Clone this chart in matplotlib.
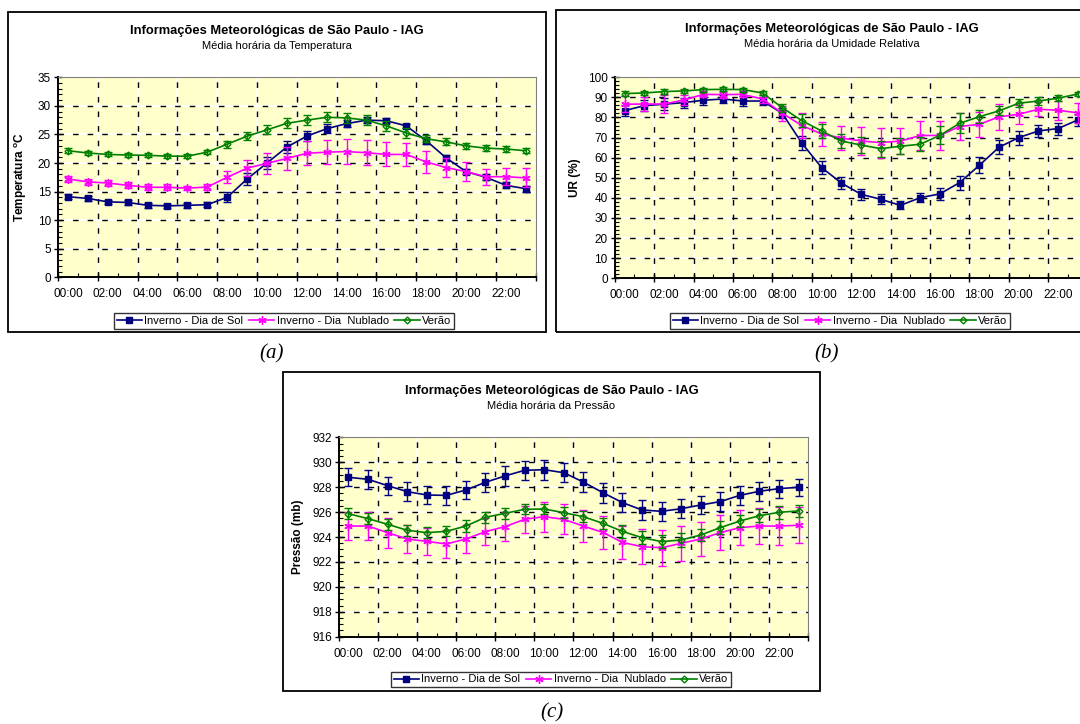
import numpy as np
import matplotlib
matplotlib.use('Agg')
import matplotlib.pyplot as plt
from matplotlib.patches import Rectangle

plt.rcParams['font.family'] = ['Liberation Sans', 'DejaVu Sans']
plt.rcParams['mathtext.fontset'] = 'custom'
plt.rcParams['mathtext.rm'] = 'Liberation Sans'

# --- dados ---
horas = ['00:00', '02:00', '04:00', '06:00', '08:00', '10:00',
         '12:00', '14:00', '16:00', '18:00', '20:00', '22:00']
series_nomes = ['Inverno - Dia de Sol', 'Inverno - Dia  Nublado', 'Verão']

temp_sol = [14.1, 13.8, 13.2, 13.1, 12.6, 12.5, 12.6, 12.7, 14.0, 17.2, 20.0, 22.8,
            24.7, 26.0, 26.9, 27.5, 27.4, 26.5, 23.9, 20.9, 18.5, 17.5, 16.1, 15.5]
temp_sol_err = [0.4, 0.4, 0.4, 0.4, 0.4, 0.4, 0.4, 0.4, 0.9, 1.0, 1.1, 1.0,
                0.9, 0.8, 0.6, 0.5, 0.4, 0.4, 0.6, 0.5, 0.5, 0.5, 0.5, 0.5]
temp_nub = [17.2, 16.7, 16.5, 16.1, 15.75, 15.75, 15.6, 15.8, 17.5, 19.1, 19.95, 20.8,
            21.7, 21.9, 22.0, 21.8, 21.5, 21.5, 20.2, 19.2, 18.5, 17.6, 17.6, 17.4]
temp_nub_err = [0.6, 0.5, 0.5, 0.5, 0.5, 0.5, 0.4, 0.5, 1.05, 1.45, 1.8, 2.0,
                2.1, 2.1, 2.2, 2.15, 2.1, 1.95, 1.9, 1.6, 1.6, 1.4, 1.5, 1.65]
temp_ver = [22.15, 21.75, 21.5, 21.4, 21.35, 21.2, 21.2, 21.9, 23.3, 24.7, 25.8, 26.95,
            27.5, 28.0, 27.9, 27.5, 26.5, 25.25, 24.25, 23.7, 23.0, 22.6, 22.45, 22.15]
temp_ver_err = [0.4, 0.35, 0.35, 0.35, 0.35, 0.35, 0.35, 0.4, 0.6, 0.7, 0.8, 0.9,
                0.9, 0.85, 0.9, 0.9, 0.9, 0.8, 0.6, 0.6, 0.5, 0.5, 0.45, 0.4]

ur_sol = [83.4, 85.9, 86.6, 87.4, 88.6, 89.2, 88.2, 88.2, 82.1, 67.2, 55.1, 47.4,
          41.8, 39.3, 36.3, 40.1, 42.0, 47.6, 56.2, 65.2, 70.0, 73.3, 74.5, 78.8]
ur_sol_err = [2.8, 2.8, 3.0, 2.5, 2.5, 2.0, 2.3, 2.0, 2.5, 3.5, 3.3, 3.0,
              2.8, 2.5, 2.0, 2.2, 3.0, 3.5, 4.0, 3.5, 3.5, 3.2, 3.0, 2.8]
ur_nub = [86.6, 86.7, 86.7, 88.7, 91.5, 91.4, 91.5, 89.2, 82.1, 76.0, 71.8, 69.8,
          68.3, 67.5, 68.3, 71.0, 71.1, 75.5, 76.6, 80.3, 81.6, 84.1, 83.6, 82.3]
ur_nub_err = [4.0, 3.5, 4.5, 2.5, 1.5, 1.5, 1.5, 2.0, 3.7, 6.2, 6.2, 6.0,
              6.8, 7.5, 6.6, 7.1, 7.1, 6.6, 6.1, 6.5, 4.7, 3.6, 4.7, 5.1]
ur_ver = [91.9, 92.2, 92.9, 93.2, 93.9, 94.0, 93.9, 92.2, 84.9, 78.4, 73.3, 68.3,
          66.3, 64.5, 65.7, 66.7, 71.1, 77.1, 80.4, 83.3, 87.1, 88.2, 89.6, 91.7]
ur_ver_err = [1.2, 1.2, 1.2, 1.2, 1.0, 1.0, 1.0, 1.2, 2.0, 3.1, 3.5, 3.5,
              4.0, 4.0, 4.0, 3.5, 4.5, 5.0, 3.3, 2.3, 2.0, 1.8, 1.5, 1.0]

pres_sol = [928.79, 928.63, 928.12, 927.64, 927.37, 927.34, 927.77, 928.39, 928.90, 929.35, 929.40, 929.16,
            928.41, 927.56, 926.76, 926.17, 926.06, 926.27, 926.57, 926.84, 927.34, 927.67, 927.88, 927.99]
pres_sol_err = [0.72, 0.75, 0.72, 0.75, 0.75, 0.75, 0.75, 0.75, 0.78, 0.78, 0.8, 0.75,
                0.8, 0.8, 0.75, 0.78, 0.78, 0.78, 0.75, 0.75, 0.75, 0.75, 0.72, 0.7]
pres_nub = [924.88, 924.88, 924.35, 923.84, 923.65, 923.44, 923.84, 924.43, 924.83, 925.42, 925.63, 925.42,
            924.88, 924.37, 923.57, 923.22, 923.14, 923.49, 923.84, 924.35, 924.75, 924.88, 924.88, 924.94]
pres_nub_err = [1.1, 1.1, 1.2, 1.1, 1.1, 1.1, 1.1, 1.1, 1.15, 1.1, 1.2, 1.2,
                1.25, 1.3, 1.3, 1.4, 1.45, 1.4, 1.4, 1.4, 1.4, 1.45, 1.5, 1.45]
pres_ver = [925.87, 925.47, 925.02, 924.54, 924.35, 924.45, 924.88, 925.58, 925.90, 926.22, 926.25, 925.95,
            925.63, 925.10, 924.45, 923.95, 923.63, 923.76, 924.16, 924.75, 925.28, 925.71, 925.98, 926.09]
pres_ver_err = [0.45, 0.45, 0.45, 0.45, 0.45, 0.4, 0.45, 0.45, 0.45, 0.4, 0.4, 0.45,
                0.45, 0.45, 0.5, 0.5, 0.5, 0.55, 0.5, 0.5, 0.5, 0.5, 0.5, 0.5]

cores = ['#000080', '#FF00FF', '#008000']
marcadores = ['s', (6, 2, 0), 'D']
tam_marc = [5, 6, 3.5]

W, H = 1080, 724
fig = plt.figure(figsize=(W / 100, H / 100), dpi=100)


def fx(px):
    return px / W


def fy(py):
    return 1 - py / H


def caixa(x0, y0, x1, y1):
    # moldura preta de cada gráfico (coordenadas em pixels)
    fig.add_artist(Rectangle((fx(x0), fy(y1)), fx(x1 - x0), (y1 - y0) / H,
                             transform=fig.transFigure, fill=False,
                             edgecolor='black', lw=1.3))


def painel(box, ax_px, dados, erros, ylim, ymaj, ymin, ylabel, subtit, ylab_x, leg_c, letra):
    x0, y0, x1, y1 = box
    caixa(x0, y0, x1, y1)

    ax = fig.add_axes([fx(ax_px[0]), fy(ax_px[3]), fx(ax_px[2] - ax_px[0]), (ax_px[3] - ax_px[1]) / H])
    ax.set_facecolor('#FFFFCC')
    x = np.arange(24) + 0.5

    # grade: linha branca com traços pretos por cima
    for yv in np.arange(ylim[0] + ymaj, ylim[1], ymaj):
        ax.axhline(yv, color='white', lw=1.2, zorder=1)
        ax.axhline(yv, color='black', lw=1.0, ls=(0, (4, 6.5)), zorder=1.1)
    for xv in range(2, 24, 2):
        ax.axvline(xv, color='white', lw=1.2, zorder=1)
        ax.axvline(xv, color='black', lw=1.0, ls=(0, (4, 6.5)), zorder=1.1)

    handles = []
    for k in range(3):
        ax.errorbar(x, dados[k], yerr=erros[k], fmt='none', ecolor=cores[k],
                    elinewidth=1.0, capsize=3, capthick=1.0, zorder=2 + k)
        mfc = 'none' if k == 2 else cores[k]
        h, = ax.plot(x, dados[k], color=cores[k], lw=1.2, marker=marcadores[k],
                     ms=tam_marc[k], mfc=mfc, mec=cores[k], mew=1.0,
                     label=series_nomes[k], zorder=3 + k)
        handles.append(h)

    ax.set_xlim(0, 24)
    ax.set_ylim(*ylim)
    ax.set_xticks(range(0, 25, 2))
    ax.set_xticklabels([])
    ax.set_xticks(range(1, 24, 2), minor=True)
    ax.set_yticks(np.arange(ylim[0], ylim[1] + 0.01, ymaj))
    ax.set_yticks(np.arange(ylim[0], ylim[1] + 0.01, ymin), minor=True)
    ax.tick_params(which='major', direction='inout', length=6, width=1.0, labelsize=8.5, pad=1)
    ax.tick_params(which='minor', direction='in', length=3, width=0.8)
    ax.tick_params(axis='y', which='major', pad=2)
    for s in ['left', 'bottom']:
        ax.spines[s].set_linewidth(1.4)
    for s in ['top', 'right']:
        ax.spines[s].set_color('#808080')
        ax.spines[s].set_linewidth(0.8)

    # rótulos das horas no centro das categorias pares
    sec = ax.secondary_xaxis('bottom')
    sec.set_xticks(np.arange(0, 24, 2) + 0.5, horas)
    sec.tick_params(length=0, labelsize=8.5, pad=8)
    sec.spines['bottom'].set_visible(False)

    ax.set_ylabel(ylabel, fontsize=8.5, fontweight='bold')
    ax.yaxis.set_label_coords(ylab_x, 0.5)

    tx = (x0 + x1) / 2
    fig.text(fx(tx), fy(y0 + 19), 'Informações Meteorológicas de São Paulo - IAG',
             ha='center', va='center', fontsize=9.3, fontweight='bold')
    fig.text(fx(tx), fy(y0 + 34), subtit, ha='center', va='center', fontsize=8)

    leg = ax.legend(handles=handles, loc='center', bbox_to_anchor=(fx(leg_c[0]), fy(leg_c[1])),
                    bbox_transform=fig.transFigure, ncol=3, fontsize=8, frameon=True,
                    fancybox=False, edgecolor='black', handlelength=2.3, handletextpad=0.2,
                    columnspacing=0.5, borderpad=0.25, borderaxespad=0)
    leg.get_frame().set_linewidth(1.0)

    fig.text(fx(letra[1]), fy(letra[2]), letra[0], ha='center', va='center',
             fontsize=15, style='italic', family='Liberation Serif')
    return ax


# (a) temperatura
painel((8, 12, 546, 332), (58, 77.3, 535.7, 277.3),
       [temp_sol, temp_nub, temp_ver], [temp_sol_err, temp_nub_err, temp_ver_err],
       (0, 35), 5, 1, 'Temperatura $^{\\mathregular{o}}$C', 'Média horária da Temperatura',
       -0.061, (284, 321), ('(a)', 272, 354))

# (b) umidade relativa (cortado na borda direita)
painel((556, 10, 1108, 332), (614.7, 77.3, 1087.7, 278.3),
       [ur_sol, ur_nub, ur_ver], [ur_sol_err, ur_nub_err, ur_ver_err],
       (0, 100), 10, 2, 'UR (%)', 'Média horária da Umidade Relativa',
       -0.071, (840, 321), ('(b)', 827, 354))

# (c) pressão
painel((283, 372, 820, 691), (338.7, 437.3, 808.3, 636.7),
       [pres_sol, pres_nub, pres_ver], [pres_sol_err, pres_nub_err, pres_ver_err],
       (916, 932), 2, 0.5, 'Pressão (mb)', 'Média horária da Pressão',
       -0.074, (561, 679.5), ('(c)', 552, 713))

fig.savefig('out.png', dpi=100)
